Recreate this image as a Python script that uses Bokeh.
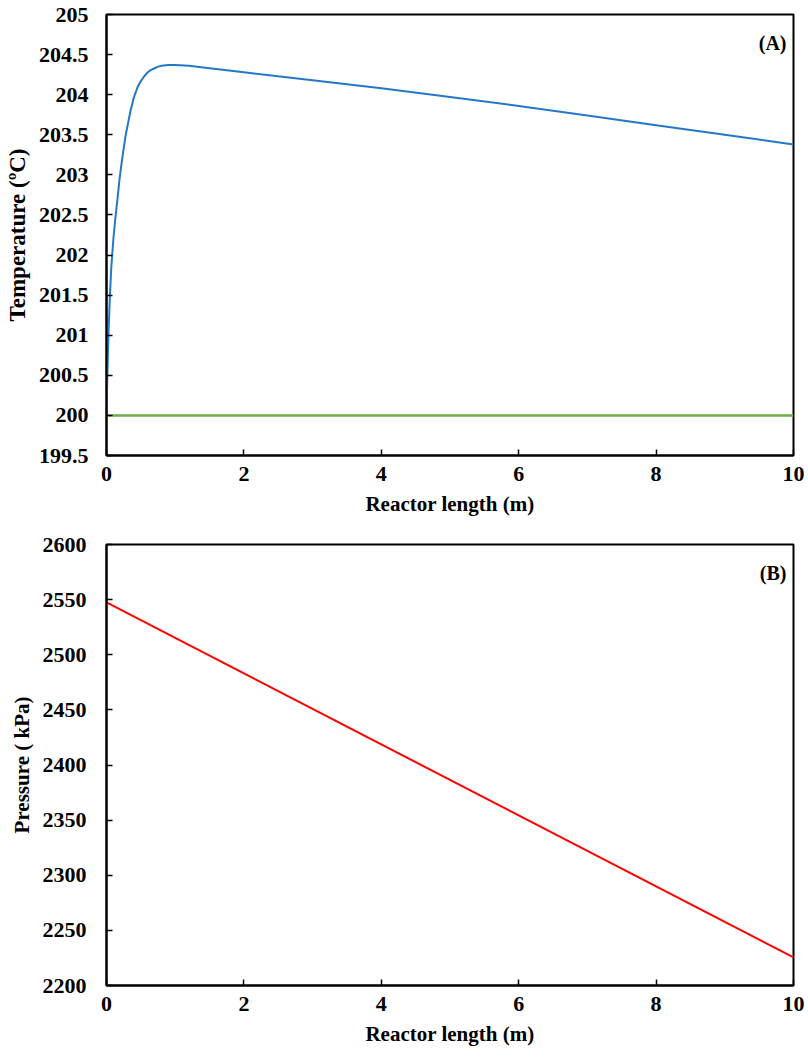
from bokeh.plotting import figure
from bokeh.layouts import column
from bokeh.models import Range1d, FixedTicker, Label, CustomJSTickFormatter
from bokeh.embed import file_html
from bokeh.resources import INLINE

# ---- data ----
length_a = [0, 0.01, 0.02, 0.03, 0.05, 0.07, 0.1, 0.13, 0.16, 0.19, 0.22, 0.25,
            0.28, 0.35, 0.4, 0.45, 0.5, 0.55, 0.6, 0.65, 0.7, 0.75, 0.8,
            0.9, 1.0, 1.2, 1.5, 2, 3, 4, 5, 6, 7, 8, 9, 10]
temp_a = [200.0, 200.4, 200.75, 201.05, 201.5, 201.85, 202.2, 202.47, 202.7,
          202.95, 203.15, 203.33, 203.5, 203.8, 203.97, 204.09, 204.17, 204.23,
          204.28, 204.31, 204.33, 204.35, 204.36, 204.37, 204.37, 204.36,
          204.33, 204.28, 204.18, 204.08, 203.97, 203.86, 203.74, 203.62,
          203.50, 203.38]
wall_x = [0, 10]
wall_t = [200.0, 200.0]
length_b = [0, 10]
pressure_b = [2547.5, 2225.5]

x_ticks = [0, 2, 4, 6, 8, 10]
t_ticks = [199.5, 200, 200.5, 201, 201.5, 202, 202.5, 203, 203.5, 204, 204.5, 205]
p_ticks = [2200, 2250, 2300, 2350, 2400, 2450, 2500, 2550, 2600]

FONT = "Liberation Serif"


def style(p, yticks, xtitle, ytitle, ytitle_size, ystandoff):
    p.xaxis.ticker = FixedTicker(ticks=x_ticks)
    p.yaxis.ticker = FixedTicker(ticks=yticks)
    fmt = "return String(Math.round(tick * 100) / 100);"
    p.xaxis.formatter = CustomJSTickFormatter(code=fmt)
    p.yaxis.formatter = CustomJSTickFormatter(code=fmt)
    p.xgrid.visible = False
    p.ygrid.visible = False
    for ax in (p.xaxis, p.yaxis):
        ax.axis_line_color = "black"
        ax.axis_line_width = 2
        ax.major_tick_in = 6
        ax.major_tick_out = 0
        ax.major_tick_line_width = 1.5
        ax.major_tick_line_color = "black"
        ax.minor_tick_line_color = None
        ax.major_label_text_font = FONT
        ax.major_label_text_font_style = "bold"
        ax.major_label_text_font_size = "22px"
        ax.major_label_text_color = "black"
        ax.axis_label_text_font = FONT
        ax.axis_label_text_font_style = "bold"
        ax.axis_label_text_font_size = "21px"
        ax.axis_label_text_color = "black"
    p.yaxis.axis_label_text_font_size = ytitle_size
    p.xaxis.axis_label = xtitle
    p.yaxis.axis_label = ytitle
    p.xaxis.major_label_standoff = 11
    p.xaxis.axis_label_standoff = 8
    p.yaxis.major_label_standoff = ystandoff
    p.yaxis.axis_label_standoff = 6
    p.outline_line_color = "black"
    p.outline_line_width = 2
    p.background_fill_color = "white"
    p.border_fill_color = "white"


# ---- Panel A ----
pa = figure(width=808, height=528, output_backend="svg", toolbar_location=None,
            x_range=Range1d(0, 10), y_range=Range1d(199.5, 205),
            min_border_left=106, min_border_right=15, min_border_top=14,
            min_border_bottom=73)
pa.line(wall_x, wall_t, line_color="#70AD47", line_width=2.5)
pa.line(length_a, temp_a, line_color="#2478C6", line_width=2)
style(pa, t_ticks, "Reactor length (m)", "Temperature (ºC)", "23px", 18)
pa.add_layout(Label(x=10, y=204.65, x_offset=-7, text="(A)", text_align="right",
                    text_baseline="middle", text_font=FONT, text_font_style="bold",
                    text_font_size="20px", text_color="black"))

# ---- Panel B ----
pb = figure(width=808, height=529, output_backend="svg", toolbar_location=None,
            x_range=Range1d(0, 10), y_range=Range1d(2200, 2600),
            min_border_left=104, min_border_right=13, min_border_top=16,
            min_border_bottom=72)
pb.line(length_b, pressure_b, line_color="#FF0000", line_width=2)
style(pb, p_ticks, "Reactor length (m)", "Pressure ( kPa)", "21px", 20)
pb.add_layout(Label(x=10, y=2574.5, x_offset=-7, text="(B)", text_align="right",
                    text_baseline="middle", text_font=FONT, text_font_style="bold",
                    text_font_size="20px", text_color="black"))

layout = column(pa, pb, spacing=0)
open("out.html", "w").write(file_html(layout, INLINE))
